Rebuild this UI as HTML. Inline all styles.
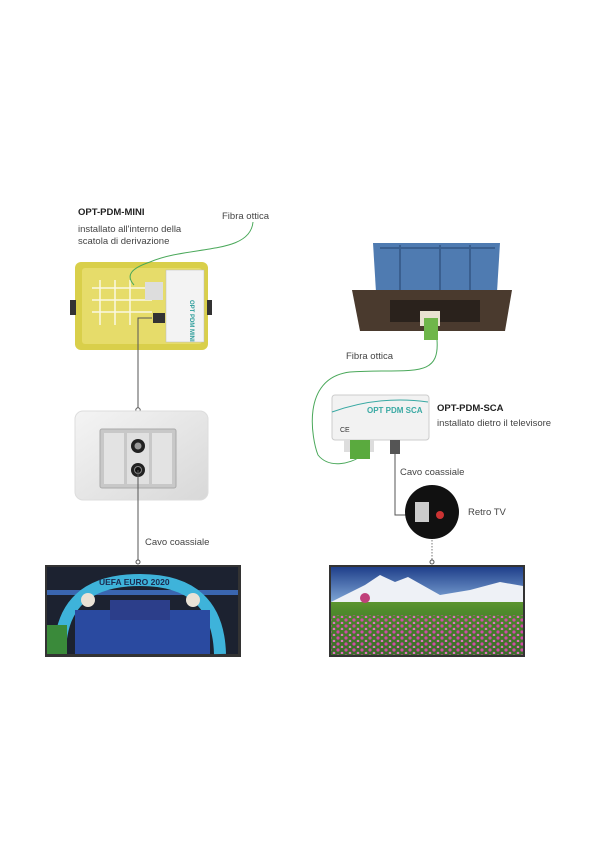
<!DOCTYPE html>
<html><head><meta charset="utf-8"><style>
body{margin:0;width:600px;height:849px;background:#fff;position:relative;overflow:hidden;font-family:"Liberation Sans",sans-serif;color:#444}
.t{position:absolute;font-size:9.5px;line-height:12px;white-space:nowrap}
.b{font-weight:bold;color:#222}
.abs{position:absolute}
</style></head><body>
<svg class="abs" style="left:0;top:0" width="600" height="849">
<defs>
<linearGradient id="sky" x1="0" y1="0" x2="0" y2="1"><stop offset="0" stop-color="#1f3f8a"/><stop offset="1" stop-color="#7fa6d6"/></linearGradient>
<linearGradient id="field" x1="0" y1="0" x2="0" y2="1"><stop offset="0" stop-color="#8fbf3a"/><stop offset="0.5" stop-color="#4f8a2c"/><stop offset="1" stop-color="#3a6a2a"/></linearGradient>
<linearGradient id="plate" x1="0" y1="0" x2="1" y2="1"><stop offset="0" stop-color="#f4f4f4"/><stop offset="1" stop-color="#d8d8d8"/></linearGradient>
<pattern id="fl" width="8" height="6" patternUnits="userSpaceOnUse"><circle cx="2" cy="2" r="1.6" fill="#d04aa8"/><circle cx="6" cy="5" r="1.3" fill="#e070c0"/></pattern>
</defs>
<rect x="75" y="262" width="133" height="88" rx="6" fill="#d9cf4a"/>
<rect x="82" y="268" width="120" height="76" rx="3" fill="#e6dc6a"/>
<g stroke="#fff" stroke-width="1.5" opacity="0.8">
<path d="M92 288h60M92 300h60M92 312h60M100 280v45M115 280v45M130 280v45"/></g>
<rect x="166" y="270" width="38" height="72" fill="#f3f3f3" stroke="#bbb" stroke-width="0.5"/>
<text x="190" y="300" font-size="6" fill="#2a9c9a" transform="rotate(90 190 300)" font-family="Liberation Sans" font-weight="bold">OPT PDM MINI</text>
<rect x="145" y="282" width="18" height="18" fill="#ddd"/>
<rect x="153" y="313" width="12" height="10" fill="#333"/>
<rect x="70" y="300" width="6" height="15" fill="#333"/>
<rect x="207" y="300" width="5" height="15" fill="#333"/>
<path d="M253 222 C250 255 190 245 150 262 C132 268 125 275 134 285" fill="none" stroke="#4aa85a" stroke-width="1"/>
<path d="M152 318 H138 V408" fill="none" stroke="#555" stroke-width="1"/>
<circle cx="138" cy="410" r="2.2" fill="#fff" stroke="#555" stroke-width="1"/>
<rect x="75" y="411" width="133" height="89" rx="8" fill="url(#plate)" stroke="#ddd"/>
<rect x="100" y="429" width="76" height="59" rx="2" fill="#c8c8c8" stroke="#aaa"/>
<rect x="104" y="433" width="20" height="51" fill="#e3e3e3"/>
<rect x="127" y="433" width="22" height="51" fill="#e0e0e0"/>
<rect x="152" y="433" width="20" height="51" fill="#e3e3e3"/>
<circle cx="138" cy="446" r="7" fill="#222"/><circle cx="138" cy="446" r="3.5" fill="#999"/>
<circle cx="138" cy="470" r="7" fill="#222"/><circle cx="138" cy="470" r="3.5" fill="#111" stroke="#888"/>
<path d="M138 470 V561" stroke="#555" stroke-width="1"/>
<circle cx="138" cy="562" r="2" fill="#fff" stroke="#555"/>
<rect x="45" y="565" width="196" height="92" fill="#333"/>
<rect x="47" y="567" width="191" height="87" fill="#1c2230"/>
<rect x="47" y="590" width="191" height="5" fill="#3a66b0"/>
<path d="M60 654 Q60 580 140 580 Q218 580 220 654" stroke="#3eb3da" stroke-width="12" fill="none"/>
<text x="99" y="585" font-size="8.5" fill="#1b2a50" font-weight="bold" font-family="Liberation Sans">UEFA EURO 2020</text>
<circle cx="88" cy="600" r="7" fill="#e9e2d6"/><circle cx="193" cy="600" r="7" fill="#e9e2d6"/>
<rect x="75" y="610" width="135" height="44" fill="#2a4aa0"/>
<rect x="110" y="600" width="60" height="20" fill="#2c3e8a"/>
<rect x="47" y="625" width="20" height="29" fill="#3a8a3a"/>
<path d="M373 243 H500 L497 292 H376 Z" fill="#4f7bb1"/>
<path d="M380 248 H495 M400 245 V290 M440 245 V290 M470 245 V290" stroke="#3a5f8f" stroke-width="2"/>
<path d="M352 290 H512 L505 331 H360 Z" fill="#4a3a2e"/>
<rect x="390" y="300" width="90" height="22" fill="#2a221c"/>
<rect x="420" y="311" width="20" height="15" fill="#e8e2d0"/>
<rect x="424" y="318" width="14" height="22" fill="#6fb64a"/>
<path d="M437 340 C440 380 410 368 350 372 C300 378 312 440 318 455 C330 470 352 462 358 458" fill="none" stroke="#4aa85a" stroke-width="1"/>
<rect x="332" y="395" width="97" height="45" rx="3" fill="#f2f2f2" stroke="#ccc"/>
<path d="M332 412 Q380 395 428 402" stroke="#39a9a3" stroke-width="1" fill="none"/>
<text x="367" y="413" font-size="8" font-weight="bold" fill="#39a9a3" font-family="Liberation Sans">OPT PDM SCA</text>
<text x="340" y="432" font-size="7" fill="#333" font-family="Liberation Sans">CE</text>
<rect x="344" y="440" width="30" height="12" fill="#ddd"/>
<rect x="350" y="440" width="20" height="19" fill="#5aaa3e"/>
<rect x="390" y="440" width="10" height="14" fill="#555"/>
<path d="M395 450 V515 H430" fill="none" stroke="#555" stroke-width="1"/>
<circle cx="432" cy="512" r="27" fill="#111"/>
<rect x="415" y="502" width="14" height="20" fill="#ccc"/>
<circle cx="440" cy="515" r="4" fill="#c33"/>
<path d="M432 540 V561" stroke="#777" stroke-width="1" stroke-dasharray="1.5 1.5"/>
<circle cx="432" cy="562" r="2" fill="#fff" stroke="#555"/>
<rect x="329" y="565" width="196" height="92" fill="#333"/>
<rect x="331" y="567" width="192" height="88" fill="url(#field)"/>
<rect x="331" y="567" width="192" height="35" fill="url(#sky)"/>
<path d="M331 602 L365 585 L380 575 L395 582 L408 577 L440 595 L470 590 L500 582 L523 586 V602 Z" fill="#eef1f6"/>
<circle cx="365" cy="598" r="5" fill="#c0407a"/>
<rect x="331" y="615" width="192" height="40" fill="url(#fl)"/>
</svg>
<div class="t b" style="left:78px;top:207px">OPT-PDM-MINI</div>
<div class="t" style="left:78px;top:224px">installato all'interno della<br>scatola di derivazione</div>
<div class="t" style="left:222px;top:211px">Fibra ottica</div>
<div class="t" style="left:145px;top:537px">Cavo coassiale</div>
<div class="t" style="left:346px;top:351px">Fibra ottica</div>
<div class="t b" style="left:437px;top:403px">OPT-PDM-SCA</div>
<div class="t" style="left:437px;top:418px">installato dietro il televisore</div>
<div class="t" style="left:400px;top:467px">Cavo coassiale</div>
<div class="t" style="left:468px;top:507px">Retro TV</div>
</body></html>
